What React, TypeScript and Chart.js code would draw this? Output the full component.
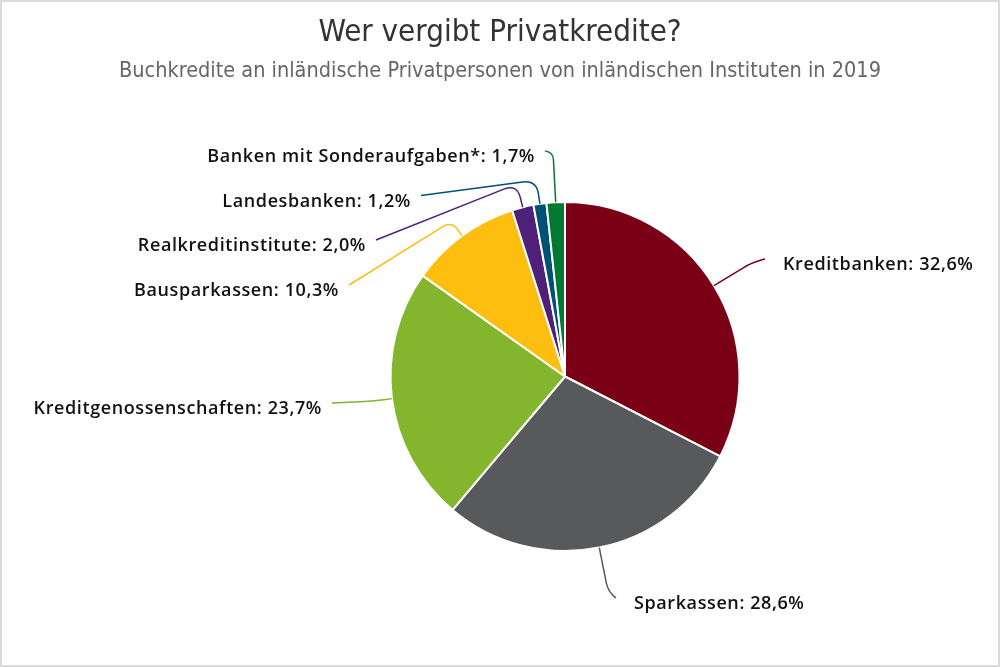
import React, { useEffect, useRef } from "react";
import { Chart, registerables } from "chart.js";

Chart.register(...registerables);

const categories = [
  "Kreditbanken",
  "Sparkassen",
  "Kreditgenossenschaften",
  "Bausparkassen",
  "Realkreditinstitute",
  "Landesbanken",
  "Banken mit Sonderaufgaben*",
];
const shares = [32.6, 28.6, 23.7, 10.3, 2.0, 1.2, 1.7];
const colors = ["#7a0016", "#58595b", "#83b52d", "#fdbe10", "#4f2079", "#005175", "#007a33"];

// label layout: connector end offset from pie centre, radial leg length, side
const labelLayout = [
  { dx: 200, dy: -117.5, d: 45, side: "right" },
  { dx: 51, dy: 221.5, d: 45, side: "right" },
  { dx: -233, dy: 26.5, d: 20, side: "left" },
  { dx: -216, dy: -91.5, d: 18, side: "left" },
  { dx: -189, dy: -136.5, d: 24, side: "left" },
  { dx: -144, dy: -181, d: 24, side: "left" },
  { dx: -20, dy: -225.5, d: 50, side: "left" },
];

const fmt = (v: number) => v.toFixed(1).replace(".", ",") + "%";

const labelPlugin = {
  id: "pieLabels",
  afterDatasetsDraw(chart: any) {
    const ctx = chart.ctx;
    const meta = chart.getDatasetMeta(0);
    meta.data.forEach((arc: any, i: number) => {
      const { x, y, startAngle, endAngle, outerRadius } = arc.getProps(
        ["x", "y", "startAngle", "endAngle", "outerRadius"],
        true
      );
      const lay = labelLayout[i];
      const mid = (startAngle + endAngle) / 2;
      const ux = Math.cos(mid);
      const uy = Math.sin(mid);
      const ex = x + ux * outerRadius;
      const ey = y + uy * outerRadius;
      const cx = ex + ux * lay.d;
      const cy = ey + uy * lay.d;
      const tx = x + lay.dx;
      const ty = y + lay.dy;
      const l1 = Math.hypot(cx - ex, cy - ey);
      const l2 = Math.hypot(tx - cx, ty - cy);
      const r = Math.min(14, l1 * 0.6, l2 * 0.9);
      const ax = cx - ((cx - ex) / l1) * r;
      const ay = cy - ((cy - ey) / l1) * r;
      const bx = cx + ((tx - cx) / l2) * r;
      const by = cy + ((ty - cy) / l2) * r;
      ctx.save();
      ctx.strokeStyle = colors[i];
      ctx.lineWidth = 1.5;
      ctx.beginPath();
      ctx.moveTo(ex, ey);
      ctx.lineTo(ax, ay);
      ctx.quadraticCurveTo(cx, cy, bx, by);
      ctx.lineTo(tx, ty);
      ctx.stroke();
      ctx.fillStyle = "#111";
      ctx.font = "600 18px 'Open Sans'";
      (ctx as any).letterSpacing = "0.6px";
      ctx.textBaseline = "middle";
      const text = categories[i] + ": " + fmt(shares[i]);
      if (lay.side === "right") {
        ctx.textAlign = "left";
        ctx.fillText(text, tx + 18, ty + 6);
      } else {
        ctx.textAlign = "right";
        ctx.fillText(text, tx - 10, ty + 6);
      }
      ctx.restore();
    });
  },
};

export default function App() {
  const ref = useRef<HTMLCanvasElement | null>(null);
  useEffect(() => {
    document.body.style.margin = "0";
    const chart = new Chart(ref.current as HTMLCanvasElement, {
      type: "pie",
      data: {
        labels: categories,
        datasets: [
          {
            data: shares,
            backgroundColor: colors,
            borderColor: "#ffffff",
            borderWidth: 2,
          },
        ],
      },
      options: {
        responsive: false,
        animation: false,
        layout: { padding: { top: 201, bottom: 115, left: 300, right: 170 } },
        plugins: {
          legend: { display: false },
          tooltip: { enabled: false },
        },
      },
      plugins: [labelPlugin],
    });
    return () => chart.destroy();
  }, []);
  return (
    <div style={{ position: "relative", width: 1000, height: 667, background: "#fff", overflow: "hidden" }}>
      <canvas ref={ref} width={1000} height={667} style={{ position: "absolute", left: 0, top: 0 }} />
      <div
        style={{
          position: "absolute",
          left: 0,
          top: 11,
          width: 1000,
          textAlign: "center",
          fontFamily: "'Liberation Sans Narrow', 'DejaVu Sans Condensed', sans-serif",
          fontSize: 31,
          color: "#333",
          lineHeight: "38px",
        }}
      >
        Wer vergibt Privatkredite?
      </div>
      <div
        style={{
          position: "absolute",
          left: 0,
          top: 57,
          width: 1000,
          textAlign: "center",
          fontFamily: "'Liberation Sans Narrow', 'DejaVu Sans Condensed', sans-serif",
          fontSize: 21.5,
          color: "#666",
          lineHeight: "26px",
        }}
      >
        Buchkredite an inländische Privatpersonen von inländischen Instituten in 2019
      </div>
      <div
        style={{
          position: "absolute",
          left: 0,
          top: 0,
          width: 1000,
          height: 667,
          boxSizing: "border-box",
          border: "2px solid #dadada",
          pointerEvents: "none",
        }}
      />
    </div>
  );
}
